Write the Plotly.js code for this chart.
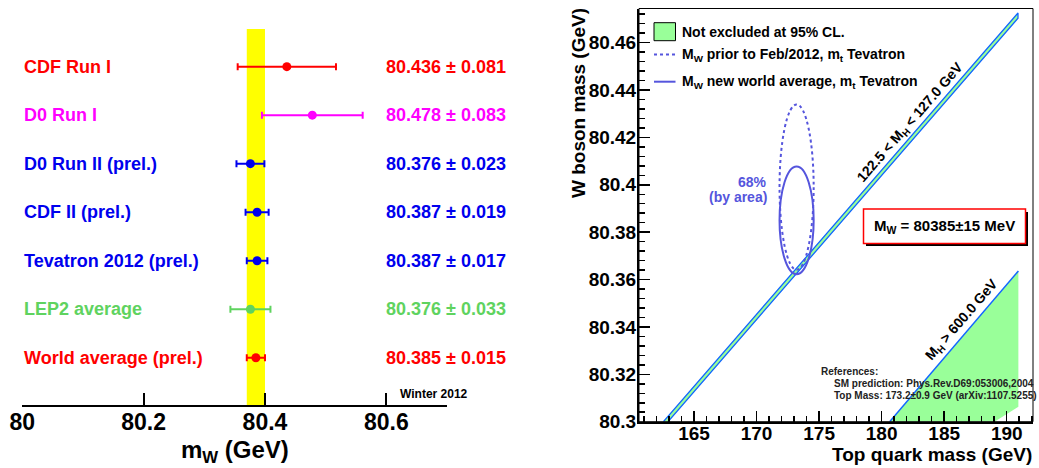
<!DOCTYPE html>
<html><head><meta charset="utf-8">
<script src="https://cdn.plot.ly/plotly-3.0.1.min.js"></script>
<style>html,body{margin:0;padding:0;background:#fff}#chart{width:1039px;height:468px}</style>
</head><body><div id="chart"></div>
<script>
// ---------- Left panel data ----------
const measNames = ["CDF Run I","D0 Run I","D0 Run II (prel.)","CDF II (prel.)","Tevatron 2012 (prel.)","LEP2 average","World average (prel.)"];
const measValues = [80.436, 80.478, 80.376, 80.387, 80.387, 80.376, 80.385];
const measErrors = [0.081, 0.083, 0.023, 0.019, 0.017, 0.033, 0.015];
const measColors = ["#ff0000","#ff00ff","#0000ee","#0000ee","#0000ee","#5fd35f","#ff0000"];
const leftTicks = [80, 80.2, 80.4, 80.6];
const leftTickText = ["80","80.2","80.4","80.6"];
const worldAvg = 80.385, worldErr = 0.015;

// ---------- Right panel data ----------
const topMass = 173.2, topMassErr = 0.9;
const mwPrior = 80.399, mwPriorErr = 0.023;
const mwNew = 80.385, mwNewErr = 0.015;
const areaScale68 = 1.5166; // 68% by area (2D)
// Higgs band 122.5 < MH < 127.0 GeV
const bandUpperMt = [162.55, 190.9];
const bandUpperMw = [80.3, 80.4725];
const bandLowerMt = [162.92, 190.9];
const bandLowerMw = [80.3, 80.4703];
// MH > 600 GeV region
const heavyMt = [180.64, 190.93, 190.93, 189.02];
const heavyMw = [80.3, 80.3636, 80.3063, 80.3];
const heavyEdgeMt = [180.64, 190.93];
const heavyEdgeMw = [80.3, 80.3636];

const W = 1039, H = 468;
const px = x => x / W, py = y => 1 - y / H;
const FONT = "Liberation Sans, Arial, Helvetica, sans-serif";
const ellColor = "#5555dd";
const bandBlue = "#1166ff", bandGreen = "#99ff99";

const traces = [];
const annotations = [];
const shapes = [];
const nRows = measNames.length;

measNames.forEach((name, i) => {
  const yv = nRows - i;
  traces.push({
    type: "scatter", mode: "markers", xaxis: "x", yaxis: "y",
    x: [measValues[i]], y: [yv],
    marker: {color: measColors[i], size: 9},
    error_x: {type: "data", array: [measErrors[i]], color: measColors[i], thickness: 2, width: 3.5},
    showlegend: false, hoverinfo: "skip"
  });
  annotations.push({xref: "paper", yref: "y", x: px(22), y: yv, xanchor: "left", yanchor: "middle",
    text: name, showarrow: false, font: {family: FONT, size: 18, color: measColors[i], weight: "bold"}});
  annotations.push({xref: "paper", yref: "y", x: px(508), y: yv, xanchor: "right", yanchor: "middle",
    text: measValues[i].toFixed(3) + " ± " + measErrors[i].toFixed(3), showarrow: false,
    font: {family: FONT, size: 18, color: measColors[i], weight: "bold"}});
});

shapes.push({type: "rect", xref: "x", yref: "y domain", x0: worldAvg - worldErr, x1: worldAvg + worldErr,
  y0: 0, y1: 1, fillcolor: "#ffff00", line: {width: 0}, layer: "below"});

annotations.push({xref: "paper", yref: "paper", x: px(398), y: py(394), xanchor: "left", yanchor: "middle",
  text: "Winter 2012", showarrow: false, font: {family: FONT, size: 12, color: "#000", weight: "bold"}});
annotations.push({xref: "paper", yref: "paper", x: px(235), y: py(451), xanchor: "center", yanchor: "middle",
  text: "m<sub>W</sub> (GeV)", showarrow: false, font: {family: FONT, size: 24, color: "#000", weight: "bold"}});

// ---------- Right panel traces ----------
traces.push({type: "scatter", mode: "lines", xaxis: "x2", yaxis: "y2",
  x: bandUpperMt.concat(bandLowerMt.slice().reverse()),
  y: bandUpperMw.concat(bandLowerMw.slice().reverse()),
  fill: "toself", fillcolor: bandGreen, line: {color: bandBlue, width: 1.3},
  showlegend: false, hoverinfo: "skip"});
traces.push({type: "scatter", mode: "lines", xaxis: "x2", yaxis: "y2",
  x: heavyMt, y: heavyMw, fill: "toself", fillcolor: bandGreen, line: {width: 0},
  showlegend: false, hoverinfo: "skip"});
traces.push({type: "scatter", mode: "lines", xaxis: "x2", yaxis: "y2",
  x: heavyEdgeMt, y: heavyEdgeMw, line: {color: bandBlue, width: 1.5},
  showlegend: false, hoverinfo: "skip"});

// ellipses
shapes.push({type: "circle", xref: "x2", yref: "y2",
  x0: topMass - topMassErr * areaScale68, x1: topMass + topMassErr * areaScale68,
  y0: mwPrior - mwPriorErr * areaScale68, y1: mwPrior + mwPriorErr * areaScale68,
  line: {color: ellColor, width: 2, dash: "dot"}});
shapes.push({type: "circle", xref: "x2", yref: "y2",
  x0: topMass - topMassErr * areaScale68, x1: topMass + topMassErr * areaScale68,
  y0: mwNew - mwNewErr * areaScale68, y1: mwNew + mwNewErr * areaScale68,
  line: {color: ellColor, width: 2}});

// frame (top/right thin)
shapes.push({type: "rect", xref: "x2 domain", yref: "y2 domain", x0: 0, x1: 1, y0: 0, y1: 1,
  line: {color: "#000", width: 1}});

// legend
shapes.push({type: "rect", xref: "paper", yref: "paper", x0: px(654), x1: px(675.5), y0: py(40.7), y1: py(22.7),
  fillcolor: bandGreen, line: {color: "#000", width: 1}});
shapes.push({type: "line", xref: "paper", yref: "paper", x0: px(654), x1: px(675.5), y0: py(54.5), y1: py(54.5),
  line: {color: ellColor, width: 2, dash: "dot"}});
shapes.push({type: "line", xref: "paper", yref: "paper", x0: px(654), x1: px(675.5), y0: py(81.7), y1: py(81.7),
  line: {color: ellColor, width: 2}});
const legFont = {family: FONT, size: 14, color: "#000", weight: "bold"};
annotations.push({xref: "paper", yref: "paper", x: px(680), y: py(32), xanchor: "left", yanchor: "middle",
  text: "Not excluded at 95% CL.", showarrow: false, font: legFont});
annotations.push({xref: "paper", yref: "paper", x: px(680), y: py(55), xanchor: "left", yanchor: "middle",
  text: "M<sub>W</sub> prior to Feb/2012, m<sub>t</sub> Tevatron", showarrow: false, font: legFont});
annotations.push({xref: "paper", yref: "paper", x: px(680), y: py(82), xanchor: "left", yanchor: "middle",
  text: "M<sub>W</sub> new world average, m<sub>t</sub> Tevatron", showarrow: false, font: legFont});

// 68% label
const ellFont = {family: FONT, size: 14, color: ellColor, weight: "bold"};
annotations.push({xref: "paper", yref: "paper", x: px(769), y: py(182), xanchor: "right", yanchor: "middle",
  text: "68%", showarrow: false, font: ellFont});
annotations.push({xref: "paper", yref: "paper", x: px(769), y: py(197), xanchor: "right", yanchor: "middle",
  text: "(by area)", showarrow: false, font: ellFont});

// rotated band labels
annotations.push({xref: "paper", yref: "paper", x: px(910), y: py(123), xanchor: "center", yanchor: "middle",
  text: "122.5 < M<sub>H</sub> < 127.0 GeV", textangle: -49, showarrow: false, font: legFont});
annotations.push({xref: "paper", yref: "paper", x: px(962), y: py(320), xanchor: "center", yanchor: "middle",
  text: "M<sub>H</sub> > 600.0 GeV", textangle: -49, showarrow: false, font: legFont});

// Mw box with shadow
shapes.push({type: "rect", xref: "paper", yref: "paper", x0: px(866), x1: px(1028), y0: py(246), y1: py(212),
  fillcolor: "#000", line: {width: 0}});
shapes.push({type: "rect", xref: "paper", yref: "paper", x0: px(863.5), x1: px(1025.5), y0: py(243.5), y1: py(209),
  fillcolor: "#fff", line: {color: "#ff0000", width: 1.5}});
annotations.push({xref: "paper", yref: "paper", x: px(944), y: py(226), xanchor: "center", yanchor: "middle",
  text: "M<sub>W</sub> = 80385±15 MeV", showarrow: false, font: {family: FONT, size: 15, color: "#000", weight: "bold"}});

// references
const refFont = {family: FONT, size: 10, color: "#222", weight: "bold"};
annotations.push({xref: "paper", yref: "paper", x: px(819), y: py(371), xanchor: "left", yanchor: "middle",
  text: "References:", showarrow: false, font: refFont});
annotations.push({xref: "paper", yref: "paper", x: px(831.5), y: py(383.5), xanchor: "left", yanchor: "middle",
  text: "SM prediction: Phys.Rev.D69:053006,2004", showarrow: false, font: refFont});
annotations.push({xref: "paper", yref: "paper", x: px(831.5), y: py(395.5), xanchor: "left", yanchor: "middle",
  text: "Top Mass: 173.2±0.9 GeV (arXiv:1107.5255)", showarrow: false, font: refFont});

// axis titles right
annotations.push({xref: "paper", yref: "paper", x: px(1034), y: py(454), xanchor: "right", yanchor: "middle",
  text: "Top quark mass (GeV)", showarrow: false, font: {family: FONT, size: 19, color: "#000", weight: "bold"}});
annotations.push({xref: "paper", yref: "paper", x: px(578), y: py(103), xanchor: "center", yanchor: "middle",
  text: "W boson mass (GeV)", textangle: -90, showarrow: false, font: {family: FONT, size: 19, color: "#000", weight: "bold"}});

const layout = {
  width: W, height: H, margin: {l: 0, r: 0, t: 0, b: 0},
  paper_bgcolor: "#fff", plot_bgcolor: "rgba(0,0,0,0)",
  font: {family: FONT, color: "#000"},
  showlegend: false,
  xaxis: {domain: [px(22.3), px(447)], range: [80, 80.7], anchor: "y",
    showline: true, linewidth: 2, linecolor: "#000", ticks: "inside", ticklen: 12, tickwidth: 2, tickcolor: "#000",
    tickvals: leftTicks, ticktext: leftTickText, showgrid: false, zeroline: false, fixedrange: true,
    ticklabelstandoff: -5,
    tickfont: {family: FONT, size: 23, color: "#000", weight: "bold"}},
  yaxis: {domain: [py(405), py(29)], range: [0.025, 7.777], visible: false, fixedrange: true},
  xaxis2: {domain: [px(639), px(1033)], range: [160.6, 192.1], anchor: "y2",
    showline: true, linewidth: 2, linecolor: "#000", ticks: "inside", ticklen: 11, tickwidth: 1.5, tickcolor: "#000",
    tick0: 165, dtick: 5, showgrid: false, zeroline: false, fixedrange: true, ticklabelstandoff: -7,
    minor: {ticks: "inside", ticklen: 6, tickwidth: 1.5, tickcolor: "#000", tick0: 160, dtick: 1, showgrid: false},
    tickfont: {family: FONT, size: 19, color: "#000", weight: "bold"}},
  yaxis2: {domain: [py(421.7), py(8.5)], range: [80.3, 80.4744], anchor: "x2",
    showline: true, linewidth: 2, linecolor: "#000", ticks: "inside", ticklen: 11, tickwidth: 1.5, tickcolor: "#000",
    tick0: 80.3, dtick: 0.02, showgrid: false, zeroline: false, fixedrange: true, ticklabelstandoff: -3,
    minor: {ticks: "inside", ticklen: 6, tickwidth: 1.5, tickcolor: "#000", tick0: 80.3, dtick: 0.004, showgrid: false},
    tickfont: {family: FONT, size: 19, color: "#000", weight: "bold"}},
  shapes: shapes,
  annotations: annotations
};

Plotly.newPlot("chart", traces, layout, {staticPlot: true, displayModeBar: false});
</script>
</body></html>
